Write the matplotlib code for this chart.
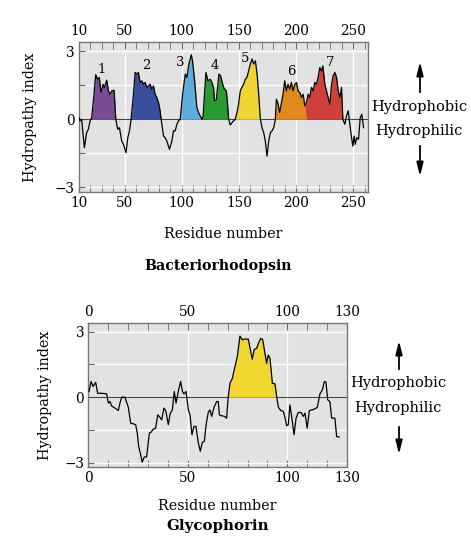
import numpy as np
import matplotlib
matplotlib.use("Agg")
import matplotlib.pyplot as plt
from matplotlib.ticker import MultipleLocator

plt.rcParams["font.family"] = ["DejaVu Serif"]
plt.rcParams["font.size"] = 10

# bacteriorhodopsin hydropathy profile
br_res = [10.0, 10.9, 12.3, 14.7, 16.7, 18.2, 19.7, 21.1, 22.6, 24.6,
          26.4, 27.8, 29.3, 31.1, 32.2, 34.3, 35.7, 37.2, 38.7, 40.7,
          42.2, 43.9, 45.4, 47.4, 48.9, 51.2, 52.7, 54.2, 55.6, 57.7,
          59.1, 60.6, 62.0, 63.5, 65.0, 66.4, 67.9, 69.4, 70.8, 72.3,
          73.7, 75.2, 76.6, 78.1, 79.6, 81.0, 81.9, 84.0, 85.4, 86.9,
          89.2, 91.3, 92.7, 94.2, 95.7, 97.1, 98.6, 100.7, 103.0, 104.5,
          106.2, 108.3, 109.4, 111.2, 113.2, 114.7, 116.1, 117.6, 118.6, 119.6,
          121.1, 122.9, 124.9, 126.4, 127.8, 128.6, 130.2, 131.5, 132.5, 134.0,
          135.5, 137.0, 139.0, 140.0, 141.0, 142.4, 143.9, 145.3, 146.8, 148.3,
          149.7, 151.2, 152.6, 154.1, 155.6, 157.0, 158.5, 160.0, 161.5, 162.9,
          164.4, 165.9, 167.3, 168.8, 170.2, 171.7, 173.1, 174.6, 176.1, 177.5,
          179.0, 180.5, 181.9, 182.8, 184.2, 185.7, 187.1, 188.6, 190.1, 191.5,
          193.0, 194.5, 195.9, 197.4, 198.9, 200.4, 201.8, 203.3, 204.8, 206.2,
          207.7, 209.1, 210.6, 212.0, 213.5, 215.0, 216.4, 217.9, 219.3, 220.8,
          222.3, 223.5, 225.2, 226.7, 228.1, 229.6, 231.1, 232.5, 234.0, 235.5,
          236.9, 238.4, 239.8, 241.0, 242.7, 244.2, 245.7, 247.1, 248.6, 249.7,
          250.9, 251.8, 253.2, 254.7, 256.2, 257.6, 259.1]
br_hyd = [0.07, -0.07, 0.0, -1.25, -0.59, -0.44, -0.07, 0.07, 0.81, 1.96,
          1.76, 1.84, 1.18, 1.54, 1.40, 1.72, 1.25, 1.10, 1.25, 1.28,
          0.0, -0.44, -0.37, -0.96, -1.10, -1.47, -0.81, -0.51, 0.0, 1.10,
          2.06, 1.99, 2.06, 1.62, 1.69, 1.54, 1.62, 1.40, 1.47, 1.54,
          1.32, 1.47, 1.10, 0.96, 0.74, 0.37, 0.0, -0.74, -0.81, -0.96,
          -1.32, -0.96, -0.51, -0.51, -0.22, -0.07, 0.0, 1.10, 1.99, 1.84,
          2.43, 2.84, 2.57, 1.69, 0.51, 0.29, 0.15, 0.0, 0.1, 0.9,
          2.06, 1.69, 1.76, 1.62, 1.40, 0.81, 0.85, 1.50, 1.99, 1.91,
          1.60, 1.35, 1.25, 0.70, 0.0, -0.25, -0.15, -0.07, 0.0, 0.29,
          0.66, 1.25, 1.40, 1.54, 1.76, 1.84, 2.13, 2.43, 2.65, 2.43,
          2.57, 1.99, 1.10, 0.0, -0.37, -0.59, -0.96, -1.62, -0.96, -0.59,
          -0.51, -0.37, 0.0, 0.88, 0.69, 0.30, 0.69, 1.10, 1.69, 1.25,
          1.54, 1.32, 1.62, 1.25, 1.54, 1.62, 1.25, 1.18, 0.96, 1.10,
          0.59, 0.74, 1.10, 0.96, 1.40, 1.25, 1.62, 1.54, 1.84, 2.28,
          2.13, 2.35, 1.54, 1.25, 0.96, 0.66, 1.54, 1.91, 2.06, 1.84,
          1.25, 0.96, 1.40, 0.0, -0.22, 0.15, 0.37, -0.22, -0.81, -1.18,
          -0.74, -1.10, -0.81, -0.88, 0.07, 0.22, -0.37]

# transmembrane helices of bacteriorhodopsin
br_helix_start = [21.1, 55.6, 98.6, 118.6, 146.8, 181.9, 209.1]
br_helix_end = [42.2, 81.9, 118.6, 141.0, 168.8, 209.1, 241.0]
br_helix_labels = ["1", "2", "3", "4", "5", "6", "7"]
br_label_x = [30, 69, 98.5, 128.5, 155, 196, 230]
br_label_y = [2.2, 2.38, 2.5, 2.38, 2.69, 2.09, 2.48]
br_colors = ["#7a4a95", "#3a4e9e", "#5eaddb", "#2a9a32", "#eed532", "#e0891f", "#cf403b"]

# glycophorin hydropathy profile
gp_res = [0.35, 1.4, 2.4, 3.7, 4.7, 6.7, 9.2, 10.1, 10.9, 11.7,
          13.4, 15.1, 15.9, 16.8, 18.4, 20.1, 21.3, 22.6, 23.8, 24.6,
          25.3, 26.1, 27.1, 28.1, 29.3, 30.7, 31.5, 32.7, 33.8, 34.9,
          35.9, 36.9, 38.0, 39.0, 40.2, 41.2, 42.2, 43.2, 44.1, 45.2,
          46.4, 47.3, 48.1, 49.1, 50.3, 51.1, 52.1, 53.1, 54.1, 55.3,
          56.3, 57.3, 58.3, 59.3, 60.3, 61.1, 62.0, 63.2, 64.5, 65.3,
          65.9, 67.0, 68.4, 69.5, 70.3, 71.2, 72.4, 73.7, 74.9, 76.2,
          77.4, 78.4, 80.4, 81.3, 82.4, 83.4, 84.6, 85.5, 86.6, 87.6,
          88.8, 89.6, 90.4, 91.3, 92.5, 93.8, 94.7, 95.5, 96.7, 98.0,
          98.9, 99.7, 100.5, 101.3, 102.2, 103.4, 104.4, 105.5, 106.9, 108.0,
          108.9, 110.0, 111.1, 112.6, 113.9, 115.1, 116.4, 117.6, 118.6, 119.4,
          120.3, 121.4, 122.3, 123.9, 124.8, 126.0]
gp_hyd = [0.26, 0.72, 0.49, 0.68, 0.18, 0.18, 0.15, -0.27, -0.2, -0.4,
          -0.5, -0.61, -0.27, 0.0, 0.0, -0.46, -1.19, -1.22, -1.26, -1.64,
          -2.25, -2.56, -2.98, -2.74, -2.74, -1.64, -1.61, -1.46, -1.43, -0.81,
          -0.91, -1.04, -0.5, -0.65, -1.26, -0.73, -0.61, 0.26, -0.27, 0.26,
          0.72, 0.26, 0.15, 0.26, -0.58, -0.81, -1.72, -1.34, -1.34, -2.1,
          -2.48, -2.07, -2.02, -1.19, -0.7, -0.58, -0.88, -0.46, -0.2, -0.2,
          -0.81, -0.85, -0.88, -0.96, 0.0, 0.64, 0.87, 1.4, 1.86, 2.8,
          2.63, 2.66, 2.66, 2.24, 1.74, 2.19, 2.24, 2.47, 2.69, 2.65,
          2.0, 1.55, 1.93, 1.78, 0.64, 0.61, 0.0, -0.46, -0.61, -0.65,
          -0.96, -1.31, -1.26, -0.35, -0.88, -1.72, -0.96, -0.7, -0.7, -0.88,
          -0.73, -1.42, -0.61, -0.58, -0.53, -0.46, 0.15, 0.33, 0.72, 0.70,
          -0.12, -0.2, -0.96, -0.96, -1.8, -1.83]
gp_helix = [70.3, 94.7]
gp_color = "#f2d630"

W, H = 471, 546
fig = plt.figure(figsize=(W / 100, H / 100), dpi=100)


def px_axes(left, top, right, bottom):
    return fig.add_axes([left / W, 1 - bottom / H, (right - left) / W, (bottom - top) / H])


def style_axes(ax, xlim, xticks, ypad, xpad):
    ax.set_facecolor("#e2e2e2")
    ax.set_xlim(*xlim)
    ax.set_ylim(-3.2, 3.4)
    ax.set_xticks(xticks)
    ax.xaxis.set_minor_locator(MultipleLocator(10))
    ax.set_yticks([-3, -1.5, 0, 1.5, 3])
    ax.set_yticklabels(["\u22123", "", "0", "", "3"])
    ax.tick_params(axis="x", which="both", direction="in", top=True, bottom=True,
                   labeltop=True, labelbottom=True, color="#666666", pad=3, labelsize=9.8)
    ax.tick_params(axis="x", which="major", length=5)
    ax.tick_params(axis="x", which="minor", length=5)
    ax.tick_params(axis="y", direction="in", length=4, color="#666666", pad=3, labelsize=9.8)
    ax.grid(True, which="major", color="white", linewidth=1.0)
    ax.set_axisbelow(True)
    for s in ax.spines.values():
        s.set_color("#777777")
        s.set_linewidth(1.0)
    ax.axhline(0, color="#444444", linewidth=0.8, zorder=2)
    ax.set_ylabel("Hydropathy index", fontsize=10.3, labelpad=ypad)
    ax.set_xlabel("Residue number", fontsize=10.3, labelpad=xpad)


def side_labels(ax, x, up_head, up_tail, txt_top, txt_bot, dn_tail, dn_head):
    fig.text(x / W, 1 - txt_top / H, "Hydrophobic", ha="center", va="center", fontsize=10.5)
    fig.text(x / W, 1 - txt_bot / H, "Hydrophilic", ha="center", va="center", fontsize=10.5)
    ap = dict(arrowstyle="-|>,head_length=0.8,head_width=0.2", color="black", lw=1.3)
    ax.annotate("", xy=((x + 1) / W, 1 - up_head / H), xytext=((x + 1) / W, 1 - up_tail / H),
                xycoords="figure fraction", arrowprops=ap, annotation_clip=False)
    ax.annotate("", xy=((x + 1) / W, 1 - dn_head / H), xytext=((x + 1) / W, 1 - dn_tail / H),
                xycoords="figure fraction", arrowprops=ap, annotation_clip=False)


# top panel: bacteriorhodopsin
ax1 = px_axes(79, 42, 368, 192)
style_axes(ax1, (10, 263), [10, 50, 100, 150, 200, 250], 13, 12)
x1 = np.array(br_res)
y1 = np.array(br_hyd)
for s, e, c in zip(br_helix_start, br_helix_end, br_colors):
    m = (x1 >= s) & (x1 <= e)
    ax1.fill_between(x1, y1, 0, where=m & (y1 >= 0), interpolate=True,
                     color=c, linewidth=0, zorder=3)
ax1.plot(x1, y1, color="black", linewidth=0.9, zorder=4)
for t, lx, ly in zip(br_helix_labels, br_label_x, br_label_y):
    ax1.text(lx, ly, t, ha="center", va="center", fontsize=9.5, zorder=5)
fig.text(218 / W, 1 - 266 / H, "Bacteriorhodopsin", ha="center", va="center",
         fontsize=10.2, fontweight="bold")
side_labels(ax1, 419, 59, 95, 107, 131, 143, 179)

# bottom panel: glycophorin
ax2 = px_axes(88.3, 323, 347, 467)
style_axes(ax2, (0, 130), [0, 50, 100, 130], 9, 10)
x2 = np.array(gp_res)
y2 = np.array(gp_hyd)
m2 = (x2 >= gp_helix[0]) & (x2 <= gp_helix[1]) & (y2 >= 0)
ax2.fill_between(x2, y2, 0, where=m2, interpolate=True, color=gp_color, linewidth=0, zorder=3)
ax2.plot(x2, y2, color="black", linewidth=0.9, zorder=4)
fig.text(218 / W, 1 - 526 / H, "Glycophorin", ha="center", va="center",
         fontsize=10.8, fontweight="bold")
side_labels(ax2, 398, 338, 372, 383, 408, 424, 457)

fig.savefig("out.png", dpi=100, facecolor="white")
